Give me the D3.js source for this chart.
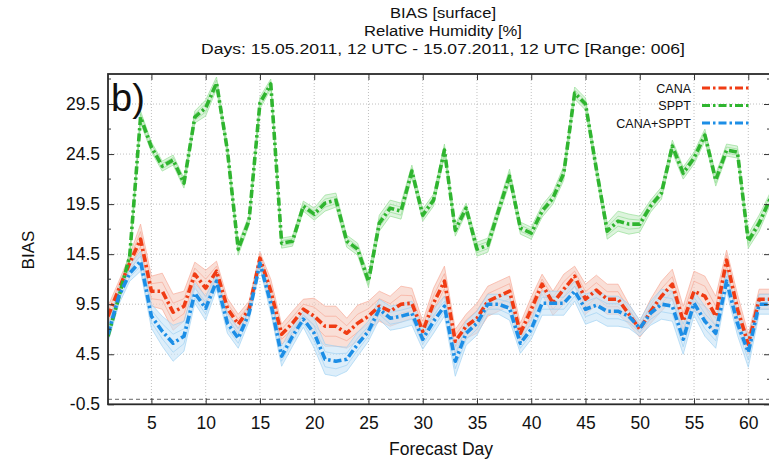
<!DOCTYPE html>
<html>
<head>
<meta charset="utf-8">
<script src="https://cdn.jsdelivr.net/npm/d3@7"></script>
<style>
body { margin: 0; background: #fff; }
text { font-family: "Liberation Sans", Arial, sans-serif; fill: #111; }
</style>
</head>
<body>
<div id="canvas"></div>
<script>
// forecast days (x categories)
var days = [1,2,3,4,5,6,7,8,9,10,11,12,13,14,15,16,17,18,19,20,21,22,23,24,25,26,27,28,29,30,
            31,32,33,34,35,36,37,38,39,40,41,42,43,44,45,46,47,48,49,50,51,52,53,54,55,56,57,58,59,60,61,62];

// ensemble mean BIAS per day
var cana = [8.3,11.0,13.6,16.0,10.8,10.8,8.7,9.3,12.5,11.1,12.8,9.1,7.5,9.0,14.1,10.8,6.5,7.6,9.0,8.3,
            7.3,7.3,6.6,7.6,8.3,9.3,8.8,9.5,9.6,6.8,9.6,11.8,5.8,7.3,8.1,9.8,10.3,10.8,6.6,9.0,
            11.5,9.6,11.0,12.3,10.0,10.9,10.0,10.0,8.5,7.0,8.8,10.3,11.5,7.8,10.8,10.3,8.3,13.9,9.0,5.5,10.0,10.0];
var sppt = [6.3,10.2,14.3,28.2,25.2,23.3,23.9,21.6,28.2,29.1,31.6,24.9,15.0,17.9,29.6,31.5,15.6,15.8,19.3,18.5,
            19.6,19.9,15.8,15.0,11.8,17.6,19.1,18.8,22.8,18.4,19.9,24.9,16.9,19.1,15.0,15.4,18.9,22.3,17.1,16.6,
            18.8,20.1,22.6,30.6,29.5,23.0,16.8,17.8,17.5,17.5,19.3,20.6,25.3,22.6,24.1,26.4,21.9,24.9,24.7,15.8,17.6,20.0];
var canaSppt = [6.5,10.3,12.6,13.8,8.3,6.8,5.6,6.3,10.6,9.1,11.8,7.6,6.1,8.6,13.6,9.6,4.3,6.3,8.0,6.6,
            4.0,3.8,4.0,5.5,6.8,9.0,8.1,8.3,8.6,6.0,7.8,9.3,3.8,6.6,7.6,9.5,9.5,9.1,5.6,7.0,
            9.6,9.6,9.6,10.8,9.0,9.4,8.8,8.8,8.3,7.1,8.6,9.5,9.3,6.0,9.6,7.8,6.6,11.8,7.6,4.7,9.5,9.5];

// approximate half-width of the member spread round each mean
var canaSpread = [1.0,0.8,0.8,1.5,1.5,1.8,1.8,1.5,1.2,1.8,1.0,1.0,1.0,0.8,0.6,1.2,1.0,1.2,1.0,1.8,
            2.0,2.0,1.5,1.8,1.5,1.5,1.5,1.8,1.5,1.0,1.5,1.5,1.2,1.2,1.5,1.5,1.5,1.5,1.0,1.2,
            1.0,1.2,1.5,1.0,1.5,1.5,1.5,1.5,1.0,0.8,1.2,1.5,1.5,1.5,2.0,2.0,2.0,1.0,1.5,1.0,1.0,1.0];
var spptSpread = [0.4,0.5,0.5,0.6,0.5,0.5,0.5,0.5,0.6,0.8,0.6,0.5,0.6,0.5,0.6,0.5,0.5,0.5,0.5,0.6,
            0.8,0.7,0.6,0.6,0.6,0.8,0.8,0.8,0.6,0.6,0.6,0.6,0.6,0.5,0.7,0.7,0.6,0.7,0.6,0.6,
            0.6,0.6,0.7,0.6,0.6,0.6,0.8,1.0,1.0,0.8,0.6,0.6,0.6,0.6,0.6,0.6,0.6,0.6,0.6,0.7,0.8,0.6];
var canaSpptSpread = [0.8,0.8,0.8,1.0,1.2,1.5,1.8,1.5,1.0,1.2,0.8,1.0,1.0,0.8,0.5,1.0,1.0,1.0,0.8,1.5,
            1.5,1.5,1.2,1.2,1.0,1.0,1.2,1.2,1.2,1.0,1.2,1.0,1.5,1.2,1.2,1.0,1.0,1.2,1.0,1.0,
            1.2,1.2,1.2,1.0,1.5,1.5,1.5,1.5,1.2,0.8,1.2,1.5,1.5,1.5,1.2,1.5,1.5,1.0,1.2,1.5,1.0,1.0];

var xTicks = [5,10,15,20,25,30,35,40,45,50,55,60];
var yTicks = [-0.5,4.5,9.5,14.5,19.5,24.5,29.5];
var yMinor = [2,7,12,17,22,27,32];

var seriesNames = ['CANA','SPPT','CANA+SPPT'];
var titleLines = ['BIAS [surface]','Relative Humidity [%]','Days: 15.05.2011, 12 UTC - 15.07.2011, 12 UTC [Range: 006]'];

// canvas
var W = 769, H = 460;
var m = {t:74, r:-1, b:56, l:108};

var svg = d3.select('#canvas').append('svg')
    .attr('width', W).attr('height', H);

var x = d3.scaleLinear().domain([1,62]).range([m.l, W - m.r]);
var y = d3.scaleLinear().domain([-0.5,32.5]).range([H - m.b + 0.3, m.t]);

// grid
var grid = svg.append('g').attr('class','grid');
grid.selectAll('.gx').data(xTicks).enter().append('line')
    .attr('x1', function(d){ return x(d); }).attr('x2', function(d){ return x(d); })
    .attr('y1', y(32.5)).attr('y2', y(-0.5))
    .attr('stroke','#b0b0b0').attr('stroke-width',0.8).attr('stroke-dasharray','1,2');
grid.selectAll('.gy').data(yTicks.slice(1)).enter().append('line')
    .attr('x1', x(1)).attr('x2', x(62))
    .attr('y1', function(d){ return y(d); }).attr('y2', function(d){ return y(d); })
    .attr('stroke','#b0b0b0').attr('stroke-width',0.8).attr('stroke-dasharray','1,2');

// zero axis
svg.append('line')
    .attr('x1', x(1)).attr('x2', x(62)).attr('y1', y(0)).attr('y2', y(0))
    .attr('stroke','#666').attr('stroke-width',1).attr('stroke-dasharray','4,3');

svg.append('clipPath').attr('id','clip').append('rect')
    .attr('x', x(1)).attr('y', y(32.5)).attr('width', x(62)-x(1)).attr('height', y(-0.5)-y(32.5));

var plot = svg.append('g').attr('clip-path','url(#clip)');

var series = [
    {name:seriesNames[0], vals:cana, spread:canaSpread, col:'#f03c14', light:'#f7a593', band:'#f5c9bd'},
    {name:seriesNames[1], vals:sppt, spread:spptSpread, col:'#2fb52f', light:'#8fdc8f', band:'#c6edc6'},
    {name:seriesNames[2], vals:canaSppt, spread:canaSpptSpread, col:'#1c8ee6', light:'#9ccff3', band:'#c7e3f7'}
];

var line = d3.line().x(function(d){ return x(d[0]); }).y(function(d){ return y(d[1]); });
var area = d3.area().x(function(d){ return x(d[0]); })
    .y0(function(d){ return y(d[1] - d[2]); }).y1(function(d){ return y(d[1] + d[2]); });

// member spread first
series.forEach(function(s){
    var pts = days.map(function(d,i){ return [d, s.vals[i], s.spread[i]]; });
    plot.append('path').datum(pts).attr('d', area)
        .attr('fill', s.band).attr('fill-opacity',0.6);
    [1,-1,0.5,-0.5].forEach(function(k){
        plot.append('path')
            .datum(pts.map(function(p){ return [p[0], p[1] + k*p[2]]; }))
            .attr('d', line).attr('fill','none')
            .attr('stroke', s.light).attr('stroke-width',0.8).attr('stroke-opacity',0.8);
    });
});
// means on top
series.forEach(function(s){
    var pts = days.map(function(d,i){ return [d, s.vals[i]]; });
    plot.append('path').datum(pts).attr('d', line)
        .attr('fill','none').attr('stroke', s.col).attr('stroke-width',3.6)
        .attr('stroke-dasharray','8,3,2.5,3').attr('stroke-linejoin','round');
});

// axes (gnuplot style ticks pointing inwards, mirrored)
var fmt = function(d){ return d.toFixed(1); };   // plain hyphen for -0.5
var axB = d3.axisBottom(x).tickValues(xTicks).tickSizeInner(-6).tickSizeOuter(0).tickPadding(12);
var axT = d3.axisTop(x).tickValues(xTicks).tickSizeInner(-6).tickSizeOuter(0).tickFormat('');
var axL = d3.axisLeft(y).tickValues(yTicks).tickSizeInner(-6).tickSizeOuter(0).tickPadding(8)
    .tickFormat(fmt);
var axR = d3.axisRight(y).tickValues(yTicks).tickSizeInner(-6).tickSizeOuter(0).tickFormat('');

function styleAxis(g){
    g.select('.domain').remove();
    g.selectAll('line').attr('stroke','#333');
    g.selectAll('text').style('font-size','17.5px').attr('fill','#111');
}
svg.append('g').attr('transform','translate(0,'+y(-0.5)+')').call(axB).call(styleAxis);
svg.append('g').attr('transform','translate(0,'+y(32.5)+')').call(axT).call(styleAxis);
svg.append('g').attr('transform','translate('+x(1)+',0)').call(axL).call(styleAxis);
svg.append('g').attr('transform','translate('+x(62)+',0)').call(axR).call(styleAxis);

// minor y ticks
svg.selectAll('.minL').data(yMinor).enter().append('line')
    .attr('x1', x(1)).attr('x2', x(1)+3)
    .attr('y1', function(d){ return y(d); }).attr('y2', function(d){ return y(d); })
    .attr('stroke','#333');
svg.selectAll('.minR').data(yMinor).enter().append('line')
    .attr('x1', x(62)).attr('x2', x(62)-3)
    .attr('y1', function(d){ return y(d); }).attr('y2', function(d){ return y(d); })
    .attr('stroke','#333');

// border
svg.append('rect')
    .attr('x', x(1)).attr('y', y(32.5)).attr('width', x(62)-x(1)).attr('height', y(-0.5)-y(32.5))
    .attr('fill','none').attr('stroke','#2a2a2a').attr('stroke-width',1.8);

// panel letter
svg.append('text').attr('x', x(1)+3).attr('y', y(32.5)+37)
    .style('font-size','38px').text('b)');

// legend
var leg = svg.append('g').attr('class','legend');
series.forEach(function(s,i){
    var ly = 88 + i*17.5;
    leg.append('text').attr('x', 691).attr('y', ly+4.5)
        .attr('text-anchor','end').style('font-size','12.5px').text(s.name);
    leg.append('line').attr('x1', 702).attr('x2', 750).attr('y1', ly).attr('y2', ly)
        .attr('stroke', s.col).attr('stroke-width',3.2).attr('stroke-dasharray','8,3,2.5,3');
});

// titles: smaller font, stretched to the reference widths so lines don't collide
var titleWidths = [106, 158, 484];
svg.selectAll('.title').data(titleLines).enter().append('text')
    .attr('x', 443).attr('y', function(d,i){ return 18 + i*18; })
    .attr('text-anchor','middle').style('font-size','15.3px')
    .attr('textLength', function(d,i){ return titleWidths[i]; })
    .attr('lengthAdjust','spacingAndGlyphs')
    .text(function(d){ return d; });

svg.append('text').attr('x', 441).attr('y', 455)
    .attr('text-anchor','middle').style('font-size','17.5px').text('Forecast Day');
svg.append('text').attr('transform','translate(34,250) rotate(-90)')
    .attr('text-anchor','middle').style('font-size','17px').text('BIAS');
</script>
</body>
</html>
